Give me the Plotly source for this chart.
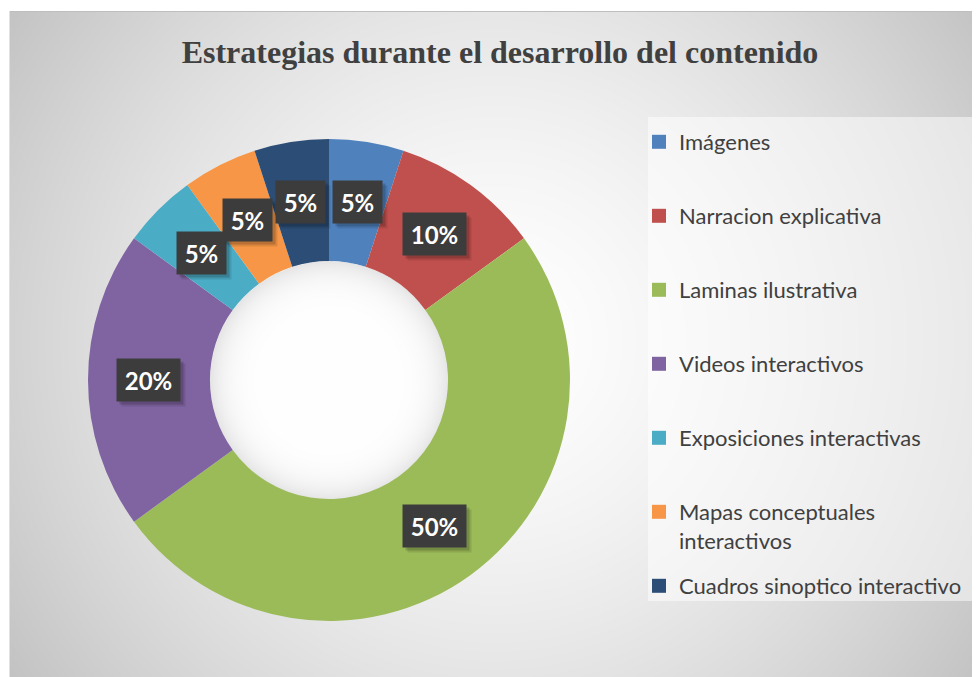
import math, zlib, struct, base64
import numpy as np
import plotly.graph_objects as go

# ---------------- data ----------------
labels = ["Imágenes", "Narracion explicativa", "Laminas ilustrativa", "Videos interactivos",
          "Exposiciones interactivas", "Mapas conceptuales<br>interactivos", "Cuadros sinoptico interactivo"]
values = [5, 10, 50, 20, 5, 5, 5]
colors = ["#4F81BD", "#C0504D", "#9BBB59", "#8064A2", "#4BACC6", "#F79646", "#2C4D75"]
title_text = "Estrategias durante el desarrollo del contenido"

# ---------------- layout constants (screen px) ----------------
W, H = 980, 677
OFF = 8                      # page body margin
def fx(x): return (x - OFF) / W
def fy(y): return 1 - (y - OFF) / H

CX, CY, R = 329, 380, 241          # donut centre / radius in screen px
HOLE = 0.494
FRAME_X0, FRAME_Y0 = 9, 11

# ---------------- background gradient image ----------------
def png_uri(arr):
    h, w, _ = arr.shape
    raw = b"".join(b"\x00" + arr[y].tobytes() for y in range(h))
    def chunk(tag, data):
        c = struct.pack(">I", len(data)) + tag + data
        return c + struct.pack(">I", zlib.crc32(tag + data) & 0xffffffff)
    png = (b"\x89PNG\r\n\x1a\n"
           + chunk(b"IHDR", struct.pack(">IIBBBBB", w, h, 8, 2, 0, 0, 0))
           + chunk(b"IDAT", zlib.compress(raw, 9))
           + chunk(b"IEND", b""))
    return "data:image/png;base64," + base64.b64encode(png).decode()

fw, fh = W - FRAME_X0 + OFF, H - FRAME_Y0 + OFF
yy, xx = np.mgrid[0:fh, 0:fw].astype(float)
gx, gy = 495 - FRAME_X0, 340 - FRAME_Y0
d = np.sqrt((xx - gx) ** 2 + (yy - gy) ** 2) / 590.0
bg = 255 - 60 * np.clip(d, 0, 1.2) ** 1.5
# inner shadow of the hole
hx, hy = CX - FRAME_X0, CY - FRAME_Y0
dh = np.sqrt((xx - hx) ** 2 + (yy - hy) ** 2) / (R * HOLE)
mask = dh < 1.0
bg[mask] = 255 - 26 * dh[mask] ** 7
bg[0, :] = 190
bg[:, 0] = 225
bg = np.clip(bg, 0, 255).astype(np.uint8)
img = np.stack([bg, bg, bg], axis=-1)
uri = png_uri(img)

# ---------------- figure ----------------
fig = go.Figure()

dom_x = [fx(CX - R), fx(CX + R)]
dom_y = [fy(CY + R), fy(CY - R)]

fig.add_trace(go.Pie(
    labels=labels, values=values, sort=False, direction="clockwise", rotation=0,
    hole=HOLE, marker=dict(colors=colors, line=dict(width=0)),
    textinfo="none", hoverinfo="label+percent", showlegend=False,
    domain=dict(x=dom_x, y=dom_y),
))

# legend entries (one legend per entry so spacing matches)
legend_mid_px = [141 + 74 * i for i in range(len(labels))]
for i, (lab, col) in enumerate(zip(labels, colors)):
    lname = "legend" if i == 0 else f"legend{i+1}"
    fig.add_trace(go.Scatter(
        x=[None], y=[None], mode="markers", name=lab,
        marker=dict(symbol="square", size=14, color=col),
        legend=lname, showlegend=True, hoverinfo="skip",
    ))
    fig.update_layout(**{lname: dict(
        x=fx(639), xanchor="left",
        y=fy(legend_mid_px[i] - 20), yanchor="top",
        bgcolor="rgba(0,0,0,0)", borderwidth=0,
        font=dict(family="Lato", size=22, color="#404040"),
        valign="top", itemclick=False, itemdoubleclick=False,
    )})

# percentage labels at slice mid-angles
total = sum(values)
r_lab = R * (1 + HOLE) / 2
cum = 0
annotations = []
for v in values:
    ang = (cum + v / 2) / total * 2 * math.pi
    cum += v
    px = CX + r_lab * math.sin(ang)
    py = CY - r_lab * math.cos(ang)
    s = f"{round(v / total * 100)}%"
    common = dict(x=fx(px), y=fy(py), xref="paper", yref="paper", showarrow=False,
                  xanchor="center", yanchor="middle", borderpad=8, height=26,
                  width=14 * len(s) + 5)
    for sh, a in [(4, 0.10), (2, 0.16)]:
        annotations.append(dict(**common, text=" ",
            font=dict(family="Lato", size=24, color="rgba(0,0,0,0)"),
            bgcolor=f"rgba(0,0,0,{a})", xshift=sh + 1, yshift=-sh - 1))
    annotations.append(dict(**common, text=f"<b>{s}</b>",
        font=dict(family="Lato", size=24, color="white"), bgcolor="#3c3c3c"))

fig.update_layout(
    width=W, height=H, autosize=False,
    margin=dict(l=0, r=0, t=0, b=0),
    paper_bgcolor="white", plot_bgcolor="rgba(0,0,0,0)",
    xaxis=dict(visible=False), yaxis=dict(visible=False),
    title=dict(text=f"<b>{title_text}</b>", x=fx(500), xanchor="center",
               y=fy(52), yanchor="middle",
               font=dict(family="Liberation Serif", size=32, color="#404040")),
    images=[dict(source=uri, xref="paper", yref="paper",
                 x=fx(FRAME_X0), y=fy(FRAME_Y0), sizex=fw / W, sizey=fh / H,
                 xanchor="left", yanchor="top", sizing="stretch", layer="below")],
    shapes=[dict(type="rect", xref="paper", yref="paper",
                 x0=fx(648), x1=fx(975), y0=fy(601), y1=fy(117),
                 fillcolor="rgba(255,255,255,0.5)", line=dict(width=0), layer="below")],
    annotations=annotations,
)

fig.write_html("out.html")
